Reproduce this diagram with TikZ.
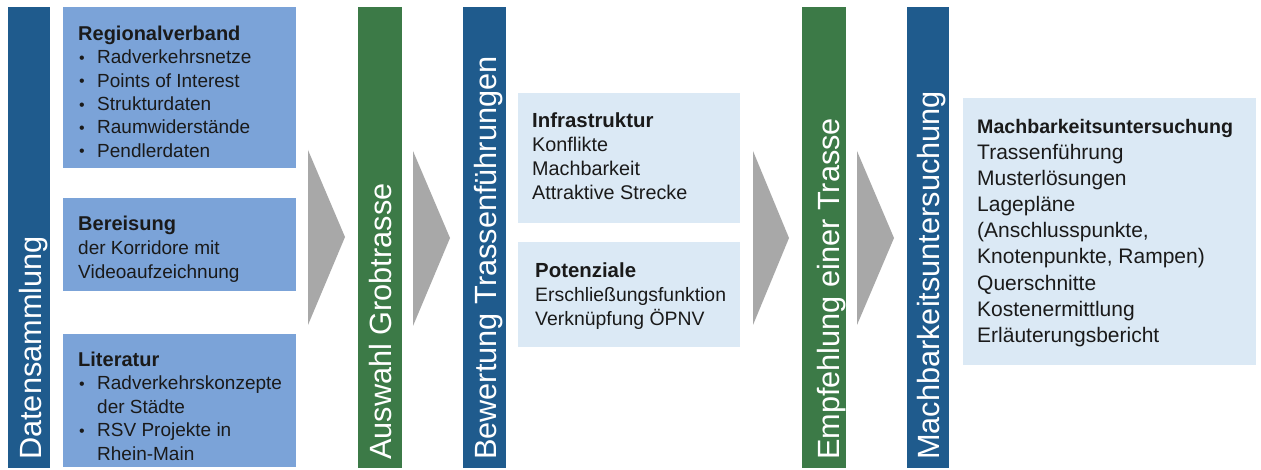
\documentclass[tikz,border=0pt]{standalone}
\usepackage{fontspec}
\setmainfont{Liberation Sans}
\definecolor{barblue}{HTML}{1F5B8D}
\definecolor{bargreen}{HTML}{3C7A47}
\definecolor{boxblue}{HTML}{7BA3D8}
\definecolor{boxlight}{HTML}{DBE9F5}
\definecolor{chevron}{HTML}{A8A8A8}
\definecolor{ink}{HTML}{1A1A1A}
% heading line and bullet used in the text blocks
\newcommand{\blockhead}[2]{{\fontsize{#1}{#1}\selectfont\bfseries #2}}
\newcommand{\bul}{\makebox[19pt][l]{\hspace{1pt}\raisebox{0.5pt}{\fontsize{16}{16}\selectfont •}}}
\newcommand{\indentline}{\hspace*{19pt}}
\begin{document}
\begin{tikzpicture}[x=1pt,y=-1pt,
  panel/.style={draw=none, inner sep=0pt, outer sep=0pt, anchor=north west},
  barlabel/.style={text=white, rotate=90, anchor=base west, inner sep=0pt,
    font=\fontsize{30.7}{30.7}\selectfont},
  blocktext/.style={anchor=north west, inner sep=0pt, align=left, text=ink},
  arrowshape/.style={fill=chevron, draw=none}]
\useasboundingbox (0,0) rectangle (1261,470);
\fill[white] (0,0) rectangle (1261,470);

% vertical process bars
\node[panel, fill=barblue,  minimum width=42pt, minimum height=461pt] (daten)   at (8,7) {};
\node[panel, fill=bargreen, minimum width=44pt, minimum height=461pt] (auswahl) at (358,7) {};
\node[panel, fill=barblue,  minimum width=43pt, minimum height=461pt] (bewert)  at (463,7) {};
\node[panel, fill=bargreen, minimum width=44pt, minimum height=461pt] (empf)    at (802,7) {};
\node[panel, fill=barblue,  minimum width=42pt, minimum height=461pt] (machb)   at (907,7) {};

\node[barlabel] (datenlbl)   at (41.5,460) {Datensammlung};
\node[barlabel] (auswahllbl) at (391,460) {Auswahl Grobtrasse};
\node[barlabel] (bewertlbl)  at (496,460) {Bewertung Trassenführungen};
\node[barlabel] (empflbl)    at (839,460) {Empfehlung einer Trasse};
\node[barlabel] (machblbl)   at (939,460) {Machbarkeitsuntersuchung};

% data sources
\node[panel, fill=boxblue, minimum width=233pt, minimum height=161pt] (regbox) at (63,7) {};
\node[panel, fill=boxblue, minimum width=233pt, minimum height=93pt]  (berbox) at (63,198) {};
\node[panel, fill=boxblue, minimum width=233pt, minimum height=133pt] (litbox) at (63,334) {};

\node[blocktext, font=\fontsize{19}{23.4}\selectfont] (regtxt) at (78,25.7)
  {\blockhead{20}{Regionalverband}\\
   \bul Radverkehrsnetze\\
   \bul Points of Interest\\
   \bul Strukturdaten\\
   \bul Raumwiderstände\\
   \bul Pendlerdaten};
\node[blocktext, font=\fontsize{19}{24}\selectfont] (bertxt) at (78,215.7)
  {\blockhead{20}{Bereisung}\\
   der Korridore mit\\
   Videoaufzeichnung};
\node[blocktext, font=\fontsize{19}{23.5}\selectfont] (littxt) at (78,351.7)
  {\blockhead{20}{Literatur}\\
   \bul Radverkehrskonzepte\\
   \indentline der Städte\\
   \bul RSV Projekte in\\
   \indentline Rhein-Main};

% assessment criteria
\node[panel, fill=boxlight, minimum width=222pt, minimum height=130pt] (infbox) at (518,93) {};
\node[panel, fill=boxlight, minimum width=222pt, minimum height=105pt] (potbox) at (518,242) {};

\node[blocktext, font=\fontsize{19.8}{24}\selectfont] (inftxt) at (532,112.4)
  {\blockhead{20.4}{Infrastruktur}\\
   Konflikte\\
   Machbarkeit\\
   Attraktive Strecke};
\node[blocktext, font=\fontsize{19.4}{24}\selectfont] (pottxt) at (535,262.4)
  {\blockhead{20.4}{Potenziale}\\
   Erschließungsfunktion\\
   Verknüpfung ÖPNV};

% feasibility study contents
\node[panel, fill=boxlight, minimum width=293pt, minimum height=267pt] (machbox) at (963,98) {};
\node[blocktext, font=\fontsize{21}{26.1}\selectfont] (machtxt) at (977,119)
  {\blockhead{19.6}{Machbarkeitsuntersuchung}\\
   Trassenführung\\
   Musterlösungen\\
   Lagepläne\\
   (Anschlusspunkte,\\
   Knotenpunkte, Rampen)\\
   Querschnitte\\
   Kostenermittlung\\
   Erläuterungsbericht};

% chevrons between the stages
\fill[arrowshape] (308,150) -- (345,237) -- (308,325) -- cycle;
\fill[arrowshape] (413,151) -- (450,238) -- (413,326) -- cycle;
\fill[arrowshape] (753,151) -- (789,238) -- (753,325) -- cycle;
\fill[arrowshape] (857,151) -- (894,238) -- (857,325) -- cycle;
\end{tikzpicture}
\end{document}
